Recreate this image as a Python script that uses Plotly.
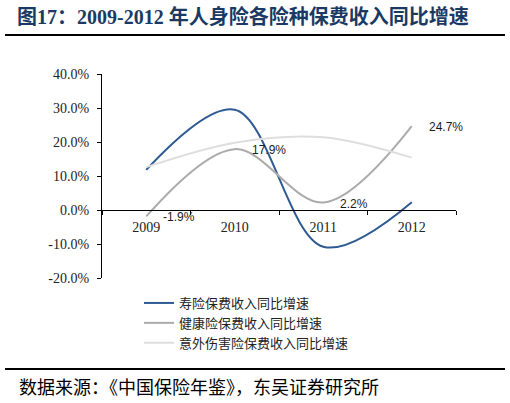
import plotly.graph_objects as go

years = ["2009", "2010", "2011", "2012"]
life = [11.8, 29.5, -10.8, 2.3]
health = [-1.9, 17.9, 2.2, 24.7]
accident = [12.6, 19.8, 21.4, 15.4]
names = ["寿险保费收入同比增速", "健康险保费收入同比增速", "意外伤害险保费收入同比增速"]
colors = ["#2E5A94", "#ABABAB", "#DEDEDE"]
health_labels = ["-1.9%", "17.9%", "2.2%", "24.7%"]

y_min, y_max = -20, 40
y_ticks = list(range(-20, 41, 10))
y_ticktext = [f"{v:.1f}%" for v in y_ticks]

fig = go.Figure()
for vals, name, col in zip([life, health, accident], names, colors):
    fig.add_trace(go.Scatter(
        x=years, y=vals, name=name, mode="lines",
        line=dict(color=col, width=2, shape="spline", smoothing=1.0),
        hoverinfo="skip",
    ))

W, H = 510, 403
ml, mr, mt, mb = 102, 54, 74, 125
pw = W - ml - mr
ph = H - mt - mb

def px_x(x):
    return (x - ml) / pw

def px_y(y):
    return (H - mb - y) / ph

annotations = []
for i, (v, t) in enumerate(zip(health, health_labels)):
    # category axis: annotation x is the category index
    annotations.append(dict(x=i, y=v, xref="x", yref="y", text=t, showarrow=False,
                            xanchor="left", yanchor="middle", xshift=15, yshift=-1,
                            font=dict(family="Liberation Sans", size=12, color="#1a1a1a")))
annotations.append(dict(text="数据来源：《中国保险年鉴》，东吴证券研究所", xref="paper", yref="paper",
                        x=px_x(17), y=px_y(386), xanchor="left", yanchor="middle", showarrow=False,
                        font=dict(family="Noto Sans CJK SC", size=18, color="black")))

fig.update_layout(
    width=W, height=H,
    margin=dict(l=ml, r=mr, t=mt, b=mb, autoexpand=False),
    paper_bgcolor="white", plot_bgcolor="white",
    title=dict(text="图17：2009-2012 年人身险各险种保费收入同比增速",
               x=17 / W, xanchor="left", xref="container",
               y=1 - 17 / H, yanchor="middle", yref="container",
               font=dict(family="Liberation Serif, Noto Sans CJK SC", size=20,
                         color="#1B3A63", weight="bold")),
    showlegend=True,
    legend=dict(x=px_x(139), y=px_y(288), xanchor="left", yanchor="top",
                font=dict(family="Noto Sans CJK SC", size=13, color="#222"),
                bgcolor="rgba(0,0,0,0)", tracegroupgap=0),
    xaxis=dict(type="category", range=[-0.5, 3.5], anchor="free",
               position=(0 - y_min) / (y_max - y_min),
               showline=True, linecolor="black", linewidth=1,
               ticks="outside", tickson="boundaries", ticklen=4, tickcolor="black",
               ticklabelstandoff=4,
               showgrid=False, zeroline=False,
               tickfont=dict(family="Liberation Serif", size=14, color="#222")),
    yaxis=dict(range=[y_min, y_max], tickvals=y_ticks, ticktext=y_ticktext,
               showline=True, linecolor="black", linewidth=1,
               ticks="outside", ticklen=4, tickcolor="black",
               ticklabelstandoff=5,
               showgrid=False, zeroline=False,
               tickfont=dict(family="Liberation Serif", size=14, color="#222")),
    shapes=[
        dict(type="line", xref="paper", yref="paper", x0=px_x(5), x1=px_x(505),
             y0=px_y(35), y1=px_y(35), line=dict(color="black", width=2)),
        dict(type="line", xref="paper", yref="paper", x0=px_x(5), x1=px_x(505),
             y0=px_y(369), y1=px_y(369), line=dict(color="black", width=2)),
    ],
    annotations=annotations,
)

fig.write_html("out.html", config={"displayModeBar": False},
               post_script="document.body.style.margin='0';document.body.style.overflow='hidden';")
